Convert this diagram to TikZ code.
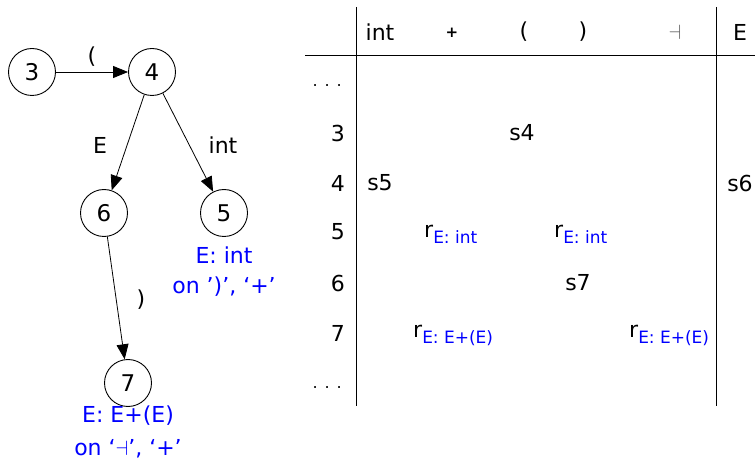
\documentclass[tikz,border=0pt]{standalone}
\usepackage{fontspec}
\setmainfont{DejaVu Sans}
\usetikzlibrary{arrows.meta}
\newcommand{\rsub}[1]{r\raisebox{-6pt}{\fontsize{17}{19}\selectfont\color{blue}#1}}
\newcommand{\mydots}{\fontsize{16}{18}\selectfont .\hspace{7pt}.\hspace{7pt}.}
\begin{document}
\begin{tikzpicture}[x=1pt,y=-1pt,
  state/.style={draw,circle,minimum size=47pt,inner sep=0pt,line width=0.9pt,font=\fontsize{23}{25}\selectfont},
  lbl/.style={font=\fontsize{22}{25}\selectfont,inner sep=0pt},
  blu/.style={font=\fontsize{22}{24}\selectfont,text=blue,inner sep=0pt},
  edge/.style={-{Triangle[length=15pt,width=12pt]},line width=0.8pt},
  tline/.style={line width=1pt}]
\useasboundingbox (0,0) rectangle (755,470);
% automaton
\node[state] (s3) at (32,72) {3};
\node[state] (s4) at (152,72) {4};
\node[state] (s6) at (104,213) {6};
\node[state] (s5) at (224,213) {5};
\node[state] (s7) at (128,383) {7};
\draw[edge] (s3) -- (s4);
\draw[edge] (s4) -- (s6);
\draw[edge] (s4) -- (s5);
\draw[edge] (s6) -- (s7);
\node[lbl] (l1) at (92,57) {(};
\node[lbl] (l2) at (100,145) {E};
\node[lbl] (l3) at (223,145) {int};
\node[lbl] (l4) at (141,300) {)};
\node[blu] (b1) at (224,255) {E: int};
\node[blu] (b2) at (224,287) {on ')', `+'};
\node[blu] (b3) at (128,416) {E: E+(E)};
\node[blu] (b4) at (128,449) {on `$\dashv$', `+'};
% table
\coordinate (v1t) at (356,7); \coordinate (v1b) at (356,406);
\coordinate (v2t) at (716,7); \coordinate (v2b) at (716,406);
\coordinate (hl) at (305,56); \coordinate (hr) at (755,56);
\draw[tline] (v1t) -- (v1b);
\draw[tline] (v2t) -- (v2b);
\draw[tline] (hl) -- (hr);
\node[lbl] (hint) at (380,32) {int};
\node[lbl] (hplus) at (452,33) {\fontsize{15}{17}\selectfont\bfseries +};
\node[lbl] (hlp) at (524,32) {(};
\node[lbl] (hrp) at (583,32) {)};
\node[lbl,text=black!60] (hend) at (675,32) {$\dashv$};
\node[lbl] (hE) at (740,32) {E};
\node[lbl,anchor=east] (r0) at (342,86) {\mydots};
\node[lbl,anchor=east] (r3) at (345,133) {3};
\node[lbl,anchor=east] (r4) at (345,183) {4};
\node[lbl,anchor=east] (r5) at (345,232) {5};
\node[lbl,anchor=east] (r6) at (345,283) {6};
\node[lbl,anchor=east] (r7) at (345,333) {7};
\node[lbl,anchor=east] (r8) at (342,388) {\mydots};
\node[lbl] (c34) at (522,133) {s4};
\node[lbl] (c45) at (380,183) {s5};
\node[lbl] (c46) at (740,183) {s6};
\node[lbl,anchor=west] (c51) at (424,234) {\rsub{E: int}};
\node[lbl,anchor=west] (c52) at (554,234) {\rsub{E: int}};
\node[lbl] (c67) at (578,283) {s7};
\node[lbl,anchor=west] (c71) at (413,335) {\rsub{E: E+(E)}};
\node[lbl,anchor=west] (c72) at (629,335) {\rsub{E: E+(E)}};
\end{tikzpicture}
\end{document}
